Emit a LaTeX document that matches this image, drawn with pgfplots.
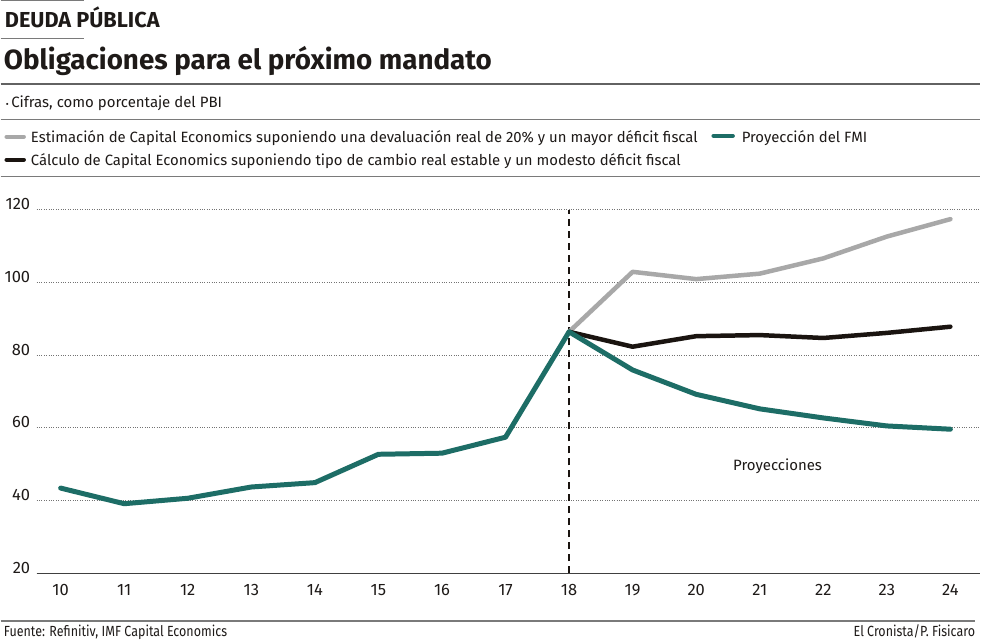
\documentclass[border=0pt]{standalone}
\usepackage{fontspec}
\setmainfont{Fira Sans}
\newfontfamily\condfont[FakeStretch=0.85]{Fira Sans}
\usepackage{pgfplots}
\pgfplotsset{compat=1.18}
\definecolor{tealc}{HTML}{1D6D66}
\definecolor{greyc}{HTML}{A8A8A8}
\definecolor{blkc}{HTML}{1A1410}
\definecolor{rulec}{HTML}{7A7A7A}
\definecolor{txt}{HTML}{1E1A18}
\begin{document}
\begin{tikzpicture}
\path[fill=white] (0,0) rectangle (981pt,-641pt);
% header rules
\draw[rulec, line width=1pt] (0,-0.5pt) -- (83pt,-0.5pt);
\draw[rulec, line width=1pt] (0,-39pt) -- (83pt,-39pt);
\draw[rulec!80!black, line width=1.5pt] (0,-84pt) -- (981pt,-84pt);
\draw[rulec, line width=1pt] (0,-120pt) -- (981pt,-120pt);
\draw[rulec, line width=1.5pt] (0,-177pt) -- (981pt,-177pt);
\draw[rulec, line width=1.5pt] (0,-622pt) -- (976pt,-622pt);
% texts
\node[anchor=base west, inner sep=0, text=txt] at (4pt,-28pt) {\fontsize{21.7}{24}\selectfont\bfseries DEUDA PÚBLICA};
\node[anchor=base west, inner sep=0, text=txt] at (3pt,-70pt) {\fontsize{27.8}{30}\selectfont\bfseries Obligaciones para el próximo mandato};
\node[anchor=base west, inner sep=0, text=txt] at (5pt,-108pt) {\fontsize{15}{16}\selectfont{\fontsize{9}{9}\selectfont•}\,Cifras, como porcentaje del PBI};
% legend
\draw[greyc, line width=4.5pt, line cap=round] (6pt,-137pt) -- (23pt,-137pt);
\node[anchor=base west, inner sep=0, text=txt] at (30pt,-143pt) {\fontsize{14.9}{16}\selectfont Estimación de Capital Economics suponiendo una devaluación real de 20\% y un mayor déficit fiscal};
\draw[blkc, line width=4.5pt, line cap=round] (6pt,-160pt) -- (23pt,-160pt);
\node[anchor=base west, inner sep=0, text=txt] at (30pt,-166pt) {\fontsize{14.9}{16}\selectfont Cálculo de Capital Economics suponiendo tipo de cambio real estable y un modesto déficit fiscal};
\draw[tealc, line width=4.5pt, line cap=round] (714pt,-136pt) -- (733pt,-136pt);
\node[anchor=base west, inner sep=0, text=txt] at (742pt,-143pt) {\fontsize{14.9}{16}\selectfont Proyección del FMI};
% footer
\node[anchor=base west, inner sep=0, text=txt] at (3pt,-637pt) {\condfont\fontsize{14.7}{15}\selectfont Fuente: Refinitiv, IMF Capital Economics};
\node[anchor=base east, inner sep=0, text=txt] at (976pt,-637pt) {\condfont\fontsize{14.7}{15}\selectfont El Cronista/P. Fisicaro};
\begin{axis}[
  at={(36pt,-574pt)}, anchor=south west,
  scale only axis, width=945pt, height=364pt,
  xmin=9.623, xmax=24.47, ymin=20, ymax=120,
  axis x line*=bottom, axis y line*=left,
  y axis line style={draw=none},
  x axis line style={draw=black!75, line width=1pt},
  major tick length=0pt,
  xtick={10,...,24}, ytick={20,40,...,120},
  ymajorgrids, major grid style={black!55, dotted, line width=0.9pt},
  /pgf/number format/assume math mode=true,
  tick label style={font=\fontsize{16.5}{17}\selectfont, text=txt},
  yticklabel style={anchor=base east, xshift=-3pt},
  xticklabel style={yshift=-8pt},
  clip=false,
]
\addplot[blkc, line width=1.8pt, dash pattern=on 7pt off 5pt] coordinates {(18,20) (18,120)};
\addplot[greyc, line width=4.5pt, line join=round, line cap=round] coordinates {
(18,86.4) (19,102.9) (20,100.9) (21,102.4) (22,106.6) (23,112.6) (24,117.4)};
\addplot[blkc, line width=4.5pt, line join=round, line cap=round] coordinates {
(18,86.4) (19,82.3) (20,85.2) (21,85.5) (22,84.7) (23,86.1) (24,87.8)};
\addplot[tealc, line width=5pt, line join=round, line cap=round] coordinates {
(10,43.4) (11,39.1) (12,40.6) (13,43.7) (14,44.9) (15,52.7) (16,53.0) (17,57.4) (18,86.4) (19,75.9) (20,69.2) (21,65.2) (22,62.7) (23,60.5) (24,59.6)};
\node[text=txt, font=\fontsize{15}{16}\selectfont] at (axis cs:21.28,49.4) {Proyecciones};
\end{axis}
\end{tikzpicture}
\end{document}
